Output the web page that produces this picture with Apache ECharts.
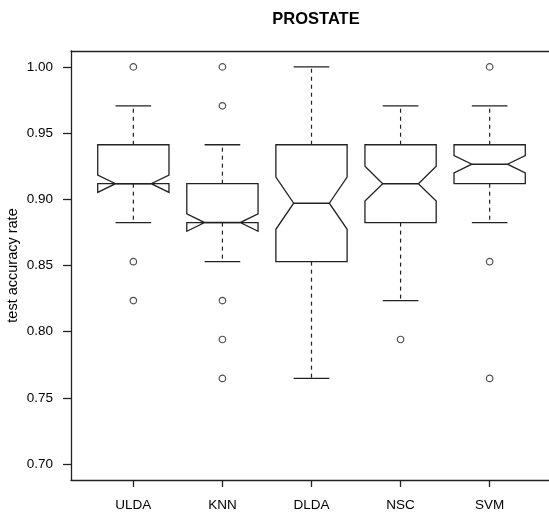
<!DOCTYPE html>
<html>
<head>
<meta charset="utf-8">
<script src="https://cdn.jsdelivr.net/npm/echarts@6/dist/echarts.min.js"></script>
<style>
  html, body { margin: 0; padding: 0; background: #fff; }
  #chart { width: 549px; height: 514px; }
</style>
</head>
<body>
<div id="chart"></div>
<script>
// Classifier test accuracy over 50 random splits (PROSTATE data)
const methods = ['ULDA', 'KNN', 'DLDA', 'NSC', 'SVM'];
const whiskerLow  = [0.8824, 0.8529, 0.7647, 0.8235, 0.8824];
const quartile1   = [0.9118, 0.8824, 0.8529, 0.8824, 0.9118];
const medians     = [0.9118, 0.8824, 0.8971, 0.9118, 0.9265];
const quartile3   = [0.9412, 0.9118, 0.9412, 0.9412, 0.9412];
const whiskerHigh = [0.9706, 0.9412, 1.0000, 0.9706, 0.9706];
const outliers = [
  [1.0000, 0.8529, 0.8235],
  [1.0000, 0.9706, 0.8235, 0.7941, 0.7647],
  [],
  [0.7941],
  [1.0000, 0.8529, 0.7647]
];
const runs = 50;
const yTicks = [0.70, 0.75, 0.80, 0.85, 0.90, 0.95, 1.00];
const xTicks = [1, 2, 3, 4, 5];

const ink = '#222';
const font = '"Liberation Sans", Arial, Helvetica, sans-serif';

// box stats per method: [x, lowW, q1, med, q3, highW, notchLo, notchHi]
const boxData = methods.map((m, i) => {
  const iqr = quartile3[i] - quartile1[i];
  const half = 1.58 * iqr / Math.sqrt(runs);
  return [i + 1, whiskerLow[i], quartile1[i], medians[i], quartile3[i], whiskerHigh[i],
          medians[i] - half, medians[i] + half];
});
const outlierData = [];
outliers.forEach((list, i) => list.forEach(v => outlierData.push([i + 1, v])));

const boxHalf = 0.4;   // half box width in x units
const capHalf = 0.2;   // half whisker-cap width

function renderBox(params, api) {
  const x = api.value(0);
  const lowW = api.value(1), q1 = api.value(2), med = api.value(3);
  const q3 = api.value(4), highW = api.value(5);
  const nLo = api.value(6), nHi = api.value(7);
  const P = (dx, v) => api.coord([x + dx, v]);
  const lineStyle = { stroke: ink, lineWidth: 1.3, fill: null };
  const dashStyle = { stroke: ink, lineWidth: 1.2, lineDash: [4, 4], fill: null };
  const poly = [
    P(-boxHalf, q1), P(-boxHalf, nLo), P(-boxHalf / 2, med), P(-boxHalf, nHi), P(-boxHalf, q3),
    P(boxHalf, q3), P(boxHalf, nHi), P(boxHalf / 2, med), P(boxHalf, nLo), P(boxHalf, q1)
  ];
  const seg = (a, b, style) => ({
    type: 'line',
    shape: { x1: a[0], y1: a[1], x2: b[0], y2: b[1] },
    style: style
  });
  return {
    type: 'group',
    children: [
      seg(P(0, q3), P(0, highW), dashStyle),
      seg(P(0, q1), P(0, lowW), dashStyle),
      seg(P(-capHalf, highW), P(capHalf, highW), lineStyle),
      seg(P(-capHalf, lowW), P(capHalf, lowW), lineStyle),
      { type: 'polygon', shape: { points: poly }, style: { stroke: ink, lineWidth: 1.3, fill: '#fff' } },
      seg(P(-boxHalf / 2, med), P(boxHalf / 2, med), { stroke: ink, lineWidth: 1.5 })
    ]
  };
}

const frameLine = { show: true, onZero: false, lineStyle: { color: ink, width: 1.3 } };

const chart = echarts.init(document.getElementById('chart'), null, { renderer: 'canvas' });
chart.setOption({
  animation: false,
  backgroundColor: '#fff',
  title: {
    text: 'PROSTATE',
    left: 311, top: 6, textAlign: 'center',
    textStyle: { fontFamily: font, fontWeight: 'bold', fontSize: 16.5, color: '#000' }
  },
  grid: {
    left: 71, top: 51, width: 481, height: 429,
    outerBoundsMode: 'none', containLabel: false,
    show: false
  },
  xAxis: [
    {
      type: 'value', min: 0.3, max: 5.7, position: 'bottom',
      splitLine: { show: false },
      axisLine: frameLine,
      axisTick: { show: true, customValues: xTicks, length: 7, lineStyle: { color: ink, width: 1.3 } },
      axisLabel: {
        customValues: xTicks, margin: 18,
        formatter: v => methods[Math.round(v) - 1],
        fontFamily: font, fontSize: 13.5, color: '#000'
      }
    },
    {
      // top edge of the plot frame
      type: 'value', min: 0.3, max: 5.7, position: 'top',
      splitLine: { show: false },
      axisLine: frameLine,
      axisTick: { show: false },
      axisLabel: { show: false }
    }
  ],
  yAxis: {
    type: 'value', min: 0.688, max: 1.012,
    name: 'test accuracy rate', nameLocation: 'middle', nameGap: 51,
    nameMoveOverlap: false,
    nameTextStyle: { fontFamily: font, fontSize: 14.5, color: '#000' },
    splitLine: { show: false },
    axisLine: frameLine,
    axisTick: { show: true, customValues: yTicks, length: 8, lineStyle: { color: ink, width: 1.3 } },
    axisLabel: {
      customValues: yTicks, margin: 18,
      formatter: v => v.toFixed(2),
      fontFamily: font, fontSize: 13.5, color: '#000'
    }
  },
  series: [
    {
      type: 'custom',
      data: boxData,
      renderItem: renderBox,
      encode: { x: 0, y: [1, 2, 3, 4, 5] },
      z: 2
    },
    {
      type: 'scatter',
      data: outlierData,
      symbol: 'circle',
      symbolSize: 6.5,
      itemStyle: { color: '#fff', borderColor: ink, borderWidth: 1.2 },
      z: 3
    }
  ]
});
</script>
</body>
</html>
